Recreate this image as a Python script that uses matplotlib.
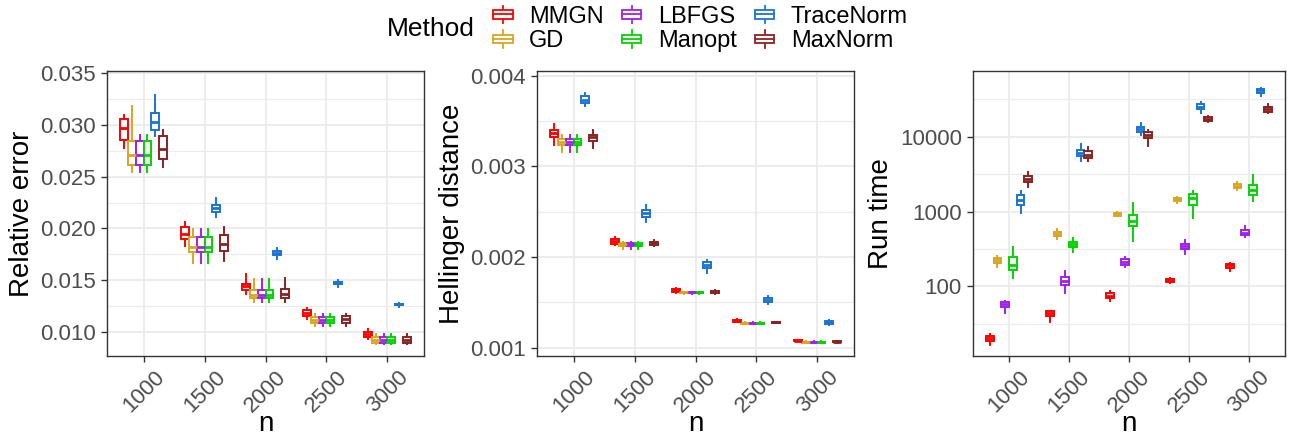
import numpy as np
import matplotlib
matplotlib.use("Agg")
import matplotlib.pyplot as plt
from matplotlib.patches import Patch, Rectangle
from matplotlib.lines import Line2D
from matplotlib.legend_handler import HandlerBase

plt.rcParams['font.family'] = ['Liberation Sans', 'DejaVu Sans']

n_values = ['1000', '1500', '2000', '2500', '3000']
methods = ['MMGN', 'GD', 'LBFGS', 'Manopt', 'TraceNorm', 'MaxNorm']
colors = ['#FF0000', '#DAA520', '#A020F0', '#00D400', '#1C74D4', '#8B2323']

# box stats per n: [whisker low, q1, median, q3, whisker high]
rel_err = {
    'MMGN':      [[0.02774, 0.02855, 0.02974, 0.03058, 0.03097],
                  [0.01835, 0.01894, 0.01942, 0.02016, 0.02058],
                  [0.01371, 0.01403, 0.01442, 0.01468, 0.01555],
                  [0.01129, 0.01152, 0.01187, 0.01210, 0.01235],
                  [0.00935, 0.00952, 0.00977, 0.01000, 0.01032]],
    'GD':        [[0.02548, 0.02610, 0.02710, 0.02845, 0.03184],
                  [0.01668, 0.01771, 0.01816, 0.01920, 0.01990],
                  [0.01290, 0.01326, 0.01361, 0.01410, 0.01513],
                  [0.01055, 0.01087, 0.01119, 0.01145, 0.01171],
                  [0.00884, 0.00890, 0.00926, 0.00952, 0.00977]],
    'LBFGS':     [[0.02548, 0.02610, 0.02710, 0.02845, 0.02900],
                  [0.01668, 0.01771, 0.01816, 0.01920, 0.01990],
                  [0.01290, 0.01326, 0.01361, 0.01410, 0.01513],
                  [0.01055, 0.01087, 0.01119, 0.01145, 0.01171],
                  [0.00884, 0.00890, 0.00926, 0.00952, 0.00977]],
    'Manopt':    [[0.02548, 0.02610, 0.02710, 0.02845, 0.02900],
                  [0.01668, 0.01771, 0.01816, 0.01920, 0.01990],
                  [0.01290, 0.01326, 0.01361, 0.01410, 0.01513],
                  [0.01055, 0.01087, 0.01119, 0.01145, 0.01171],
                  [0.00884, 0.00890, 0.00926, 0.00952, 0.00977]],
    'TraceNorm': [[0.02894, 0.02955, 0.03026, 0.03119, 0.03284],
                  [0.02113, 0.02161, 0.02200, 0.02223, 0.02294],
                  [0.01706, 0.01742, 0.01764, 0.01780, 0.01813],
                  [0.01435, 0.01461, 0.01474, 0.01484, 0.01500],
                  [0.01245, 0.01258, 0.01268, 0.01274, 0.01284]],
    'MaxNorm':   [[0.02597, 0.02671, 0.02771, 0.02894, 0.02952],
                  [0.01681, 0.01784, 0.01848, 0.01939, 0.02016],
                  [0.01294, 0.01329, 0.01371, 0.01416, 0.01520],
                  [0.01055, 0.01087, 0.01126, 0.01152, 0.01177],
                  [0.00884, 0.00890, 0.00926, 0.00952, 0.00977]],
}

hellinger = {
    'MMGN':      [[0.003230, 0.003320, 0.003370, 0.003400, 0.003470],
                  [0.002130, 0.002140, 0.002180, 0.002200, 0.002220],
                  [0.001600, 0.001620, 0.001640, 0.001650, 0.001660],
                  [0.001280, 0.001290, 0.001300, 0.001310, 0.001320],
                  [0.001070, 0.001072, 0.001080, 0.001088, 0.001090]],
    'GD':        [[0.003160, 0.003240, 0.003270, 0.003300, 0.003350],
                  [0.002090, 0.002120, 0.002140, 0.002160, 0.002170],
                  [0.001590, 0.001600, 0.001610, 0.001620, 0.001620],
                  [0.001260, 0.001265, 0.001270, 0.001275, 0.001280],
                  [0.001050, 0.001052, 0.001059, 0.001065, 0.001070]],
    'LBFGS':     [[0.003160, 0.003240, 0.003270, 0.003300, 0.003350],
                  [0.002090, 0.002120, 0.002140, 0.002160, 0.002170],
                  [0.001590, 0.001600, 0.001610, 0.001620, 0.001620],
                  [0.001260, 0.001265, 0.001270, 0.001275, 0.001280],
                  [0.001050, 0.001052, 0.001059, 0.001065, 0.001070]],
    'Manopt':    [[0.003160, 0.003240, 0.003270, 0.003300, 0.003350],
                  [0.002090, 0.002120, 0.002140, 0.002160, 0.002170],
                  [0.001590, 0.001600, 0.001610, 0.001620, 0.001620],
                  [0.001260, 0.001265, 0.001270, 0.001275, 0.001280],
                  [0.001050, 0.001052, 0.001059, 0.001065, 0.001070]],
    'TraceNorm': [[0.003660, 0.003700, 0.003730, 0.003770, 0.003810],
                  [0.002390, 0.002440, 0.002480, 0.002520, 0.002570],
                  [0.001820, 0.001880, 0.001910, 0.001950, 0.001970],
                  [0.001480, 0.001500, 0.001530, 0.001550, 0.001574],
                  [0.001250, 0.001260, 0.001281, 0.001300, 0.001310]],
    'MaxNorm':   [[0.003200, 0.003280, 0.003320, 0.003350, 0.003400],
                  [0.002120, 0.002130, 0.002160, 0.002170, 0.002190],
                  [0.001590, 0.001600, 0.001620, 0.001630, 0.001640],
                  [0.001270, 0.001275, 0.001280, 0.001285, 0.001290],
                  [0.001058, 0.001060, 0.001066, 0.001070, 0.001074]],
}

run_time = {
    'MMGN':      [[16.6, 18.8, 20.4, 21.9, 23.1],
                  [33.0, 39.7, 43.6, 46.4, 47.3],
                  [64.3, 69.2, 75.0, 81.5, 87.5],
                  [110.7, 113, 120, 126.5, 129],
                  [158, 176, 191, 199, 203]],
    'GD':        [[180, 205, 225, 239, 257],
                  [429, 466, 500, 537, 578],
                  [861, 880, 927, 955, 975],
                  [1300, 1368, 1469, 1514, 1545],
                  [1937, 2080, 2213, 2330, 2455]],
    'LBFGS':     [[43.5, 52.3, 57.4, 61.7, 64.3],
                  [80.6, 105, 119, 132, 158],
                  [180, 195, 211, 229, 249],
                  [270, 316, 343, 372, 416],
                  [452, 481, 521, 567, 634]],
    'Manopt':    [[129, 165, 195, 244, 339],
                  [285, 332, 368, 395, 437],
                  [399, 634, 739, 897, 1285],
                  [818, 1234, 1499, 1713, 1858],
                  [1368, 1680, 1959, 2285, 3076]],
    'TraceNorm': [[946, 1234, 1424, 1643, 1897],
                  [4779, 5515, 6115, 6635, 7980],
                  [10520, 11660, 12660, 13600, 15380],
                  [20510, 23420, 25420, 27350, 29650],
                  [35300, 39100, 42050, 44250, 45600]],
    'MaxNorm':   [[2103, 2455, 2718, 2980, 3404],
                  [4678, 5188, 5690, 6500, 7350],
                  [7585, 9600, 10630, 11660, 12270],
                  [15710, 16180, 17220, 18130, 18700],
                  [20700, 21600, 23420, 25200, 27350]],
}

W, H = 1289, 443
fig = plt.figure(figsize=(W / 100, H / 100), dpi=100)

tick_col = '#4D4D4D'
grid_col = '#EBEBEB'
dodge = 0.128


def draw_panel(ax, data, ylabel):
    for j, m in enumerate(methods):
        stats = []
        for lo, q1, med, q3, hi in data[m]:
            stats.append(dict(whislo=lo, q1=q1, med=med, q3=q3, whishi=hi, fliers=[]))
        pos = np.arange(len(n_values)) + (j - 2.5) * dodge
        c = colors[j]
        ax.bxp(stats, positions=pos, widths=dodge, showcaps=False, showfliers=False,
               patch_artist=True, manage_ticks=False,
               boxprops=dict(facecolor='white', edgecolor=c, linewidth=1.4),
               whiskerprops=dict(color=c, linewidth=1.4),
               medianprops=dict(color=c, linewidth=2.0, solid_capstyle='butt'))
    ax.set_xlim(-0.6, len(n_values) - 0.4)
    ax.set_xticks(range(len(n_values)))
    ax.set_xticklabels(n_values, rotation=45, ha='center', va='top')
    ax.set_xlabel('n', fontsize=20, va='center')
    ax.xaxis.set_label_coords(0.5, -68 / 285)
    ax.set_ylabel(ylabel, fontsize=20)
    ax.tick_params(axis='both', which='major', colors='#333333', labelcolor=tick_col,
                   labelsize=16, length=4.5, width=1, direction='out')
    ax.tick_params(axis='x', pad=3)
    ax.tick_params(axis='y', which='minor', length=0)
    ax.tick_params(axis='x', which='minor', bottom=False)
    ax.grid(True, which='major', color=grid_col, linewidth=1.3)
    ax.grid(True, which='minor', axis='y', color=grid_col, linewidth=0.8)
    ax.set_axisbelow(True)
    for s in ax.spines.values():
        s.set_color('#333333')
        s.set_linewidth(1.0)


bottom = (H - 356) / H
height = 285 / H

ax1 = fig.add_axes([107 / W, bottom, 317 / W, height])
draw_panel(ax1, rel_err, 'Relative error')
ax1.set_ylim(0.00768, 0.0352)
ax1.set_yticks([0.010, 0.015, 0.020, 0.025, 0.030, 0.035])
ax1.set_yticklabels(['0.010', '0.015', '0.020', '0.025', '0.030', '0.035'])
ax1.set_yticks([0.0125, 0.0175, 0.0225, 0.0275, 0.0325], minor=True)

ax2 = fig.add_axes([537 / W, bottom, 317 / W, height])
draw_panel(ax2, hellinger, 'Hellinger distance')
ax2.set_ylim(0.00091, 0.00405)
ax2.set_yticks([0.001, 0.002, 0.003, 0.004])
ax2.set_yticklabels(['0.001', '0.002', '0.003', '0.004'])
ax2.set_yticks([0.0015, 0.0025, 0.0035], minor=True)

ax3 = fig.add_axes([973 / W, bottom, 312 / W, height])
ax3.set_yscale('log')
draw_panel(ax3, run_time, 'Run time')
ax3.set_ylim(11.7, 75900)
ax3.set_yticks([100, 1000, 10000])
ax3.set_yticklabels(['100', '1000', '10000'])
ax3.set_yticks([10 ** 1.5, 10 ** 2.5, 10 ** 3.5, 10 ** 4.5], minor=True)
ax3.yaxis.set_minor_formatter(plt.NullFormatter())
ax3.tick_params(axis='y', which='minor', length=0)


# legend keys drawn like boxplot glyphs
class BoxKey(HandlerBase):
    def create_artists(self, legend, orig_handle, xdescent, ydescent,
                       width, height, fontsize, trans):
        c = orig_handle.get_edgecolor()
        x0, y0 = -xdescent, -ydescent
        cx = x0 + width / 2
        wl = Line2D([cx, cx], [y0 - 0.1 * height, y0 + 1.1 * height], color=c, lw=1.3,
                    transform=trans)
        box = Rectangle((x0 + 0.05 * width, y0 + 0.2 * height), 0.9 * width, 0.6 * height,
                        facecolor='white', edgecolor=c, lw=1.3, transform=trans)
        md = Line2D([x0 + 0.05 * width, x0 + 0.95 * width], [y0 + 0.5 * height] * 2,
                    color=c, lw=1.3, transform=trans)
        return [wl, box, md]


handles = [Patch(edgecolor=c, facecolor='white', label=m) for m, c in zip(methods, colors)]
fig.legend(handles=handles, ncol=3, loc='center left',
           bbox_to_anchor=(492 / W, 1 - 29 / H), frameon=False, fontsize=17,
           handler_map={Patch: BoxKey()}, handlelength=0.92, handleheight=0.56,
           handletextpad=0.65, columnspacing=0.72, labelspacing=0.12,
           borderpad=0, borderaxespad=0)
fig.text(387 / W, 1 - 29 / H, 'Method', fontsize=19, va='center', ha='left')

fig.savefig('out.png', dpi=100)
